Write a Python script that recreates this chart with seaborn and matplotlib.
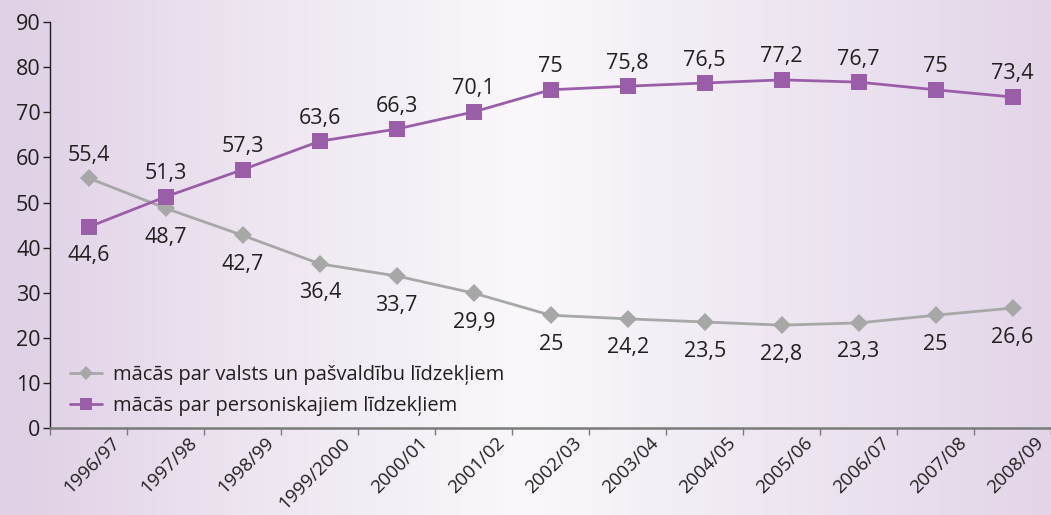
import numpy as np
import pandas as pd
import seaborn as sns
import matplotlib.pyplot as plt
from matplotlib.colors import LinearSegmentedColormap
from matplotlib.transforms import ScaledTranslation

# academic years
years = ['1996/97', '1997/98', '1998/99', '1999/2000', '2000/01', '2001/02', '2002/03',
         '2003/04', '2004/05', '2005/06', '2006/07', '2007/08', '2008/09']

# share of students (%)
state_funded = [55.4, 48.7, 42.7, 36.4, 33.7, 29.9, 25, 24.2, 23.5, 22.8, 23.3, 25, 26.6]
self_funded = [44.6, 51.3, 57.3, 63.6, 66.3, 70.1, 75, 75.8, 76.5, 77.2, 76.7, 75, 73.4]

label_state = 'mācās par valsts un pašvaldību līdzekļiem'
label_self = 'mācās par personiskajiem līdzekļiem'

grey = '#a7a7a7'
purple = '#9a5ea9'
dark = '#231f20'

df = pd.DataFrame({'idx': np.arange(len(years)), 'state': state_funded, 'self': self_funded})

sns.set_style('white')
plt.rcParams['font.family'] = ['Open Sans', 'DejaVu Sans']

fig = plt.figure(figsize=(10.51, 5.15), dpi=100)

# background gradient (lavender at the edges, near white in the middle)
bg = fig.add_axes([0, 0, 1, 1], zorder=0)
cmap = LinearSegmentedColormap.from_list('bg', ['#dfd0e5', '#eee6f1', '#faf8fb', '#eee6f1', '#e2d5e8'])
bg.imshow(np.linspace(0, 1, 256).reshape(1, -1), aspect='auto', cmap=cmap, extent=[0, 1, 0, 1])
bg.set_axis_off()

ax = fig.add_axes([0.048, 0.169, 0.952, 0.788], zorder=1)
ax.patch.set_alpha(0)

sns.lineplot(data=df, x='idx', y='state', ax=ax, color=grey, lw=2, marker='D',
             markersize=9, markeredgewidth=0, label=label_state)
sns.lineplot(data=df, x='idx', y='self', ax=ax, color=purple, lw=2, marker='s',
             markersize=11, markeredgewidth=0, label=label_self)

# value labels: the higher series above its marker, the lower one below
for i, (a, b) in enumerate(zip(state_funded, self_funded)):
    for v, up in ((a, a > b), (b, b > a)):
        ax.annotate(f'{v:g}'.replace('.', ','), (i, v), xytext=(0, 23 if up else -29),
                    textcoords='offset pixels', ha='center', va='center',
                    fontsize=15.5, color=dark)

ax.set_xlim(-0.5, len(years) - 0.5)
ax.set_ylim(0, 90)
ax.set_yticks(range(0, 91, 10))
ax.tick_params(axis='y', labelsize=15.5, colors=dark, length=5, width=1, direction='out', left=True, pad=2)

# tick marks on category boundaries, labels near category centres
ax.set_xticks(np.arange(len(years) + 1) - 0.5)
ax.set_xticklabels([])
ax.tick_params(axis='x', which='major', length=5, width=1, color='#7a7a7a', direction='out', bottom=True)
ax.set_xticks(np.arange(len(years)), minor=True)
ax.set_xticklabels(years, minor=True, rotation=45, ha='right', va='center',
                   rotation_mode='anchor', fontsize=13.5, color=dark)
ax.tick_params(axis='x', which='minor', length=0, pad=9)
shift = ScaledTranslation(0.28, 0, fig.dpi_scale_trans)
for lab in ax.get_xticklabels(minor=True):
    lab.set_transform(lab.get_transform() + shift)

ax.set_xlabel('')
ax.set_ylabel('')
sns.despine(ax=ax)
ax.spines['left'].set_color(dark)
ax.spines['left'].set_linewidth(1)
ax.spines['bottom'].set_color('#7a7a7a')
ax.spines['bottom'].set_linewidth(1.8)

leg = ax.legend(loc='lower left', bbox_to_anchor=(0.007, 0.0), frameon=False, fontsize=14.5,
                handlelength=1.6, handletextpad=0.55, labelspacing=0.55, markerscale=0.75,
                borderaxespad=0.2)
for t in leg.get_texts():
    t.set_color(dark)

fig.savefig('out.png', dpi=100)
